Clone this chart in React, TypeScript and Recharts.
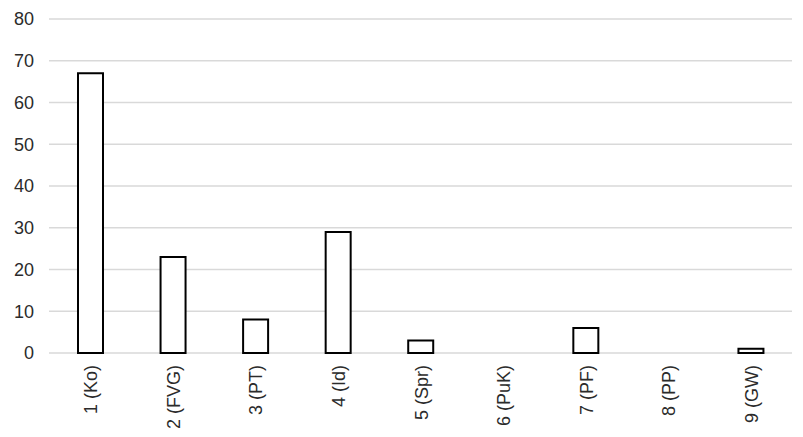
import React from "react";
import { BarChart, Bar, XAxis, YAxis, CartesianGrid } from "recharts";

const categories = ["1 (Ko)", "2 (FVG)", "3 (PT)", "4 (Id)", "5 (Spr)", "6 (PuK)", "7 (PF)", "8 (PP)", "9 (GW)"];
const values = [67, 23, 8, 29, 3, 0, 6, 0, 1];
const yTicks = [0, 10, 20, 30, 40, 50, 60, 70, 80];

const data = categories.map((c, i) => ({ name: c, value: values[i] }));

const FONT = "'Liberation Sans', Arial, sans-serif";

const XTick = (props: any) => {
  const { x, y, payload } = props;
  return (
    <g transform={`translate(${x + 1},${y})`}>
      <text
        transform="rotate(-90)"
        x={-4}
        y={0}
        textAnchor="end"
        dominantBaseline="central"
        fontSize={18}
        fontFamily={FONT}
        fill="#2b2b2b"
      >
        {payload.value}
      </text>
    </g>
  );
};

export default function App() {
  return (
    <div style={{ position: "absolute", left: 0, top: 0, width: 803, height: 437, background: "#fff" }}>
      <BarChart
        width={803}
        height={437}
        data={data}
        margin={{ top: 19, right: 11, left: 0, bottom: 4 }}
      >
        <CartesianGrid horizontal={true} vertical={false} stroke="#d9d9d9" strokeWidth={1.5} />
        <XAxis
          dataKey="name"
          axisLine={false}
          tickLine={false}
          height={80}
          interval={0}
          tick={<XTick />}
        />
        <YAxis
          domain={[0, 80]}
          ticks={yTicks}
          width={49}
          axisLine={false}
          tickLine={false}
          tickMargin={9}
          tick={{ fontSize: 18, fontFamily: FONT, fill: "#2b2b2b" }}
        />
        <Bar dataKey="value" fill="#ffffff" stroke="#000000" strokeWidth={2} barSize={25} isAnimationActive={false} />
      </BarChart>
    </div>
  );
}
